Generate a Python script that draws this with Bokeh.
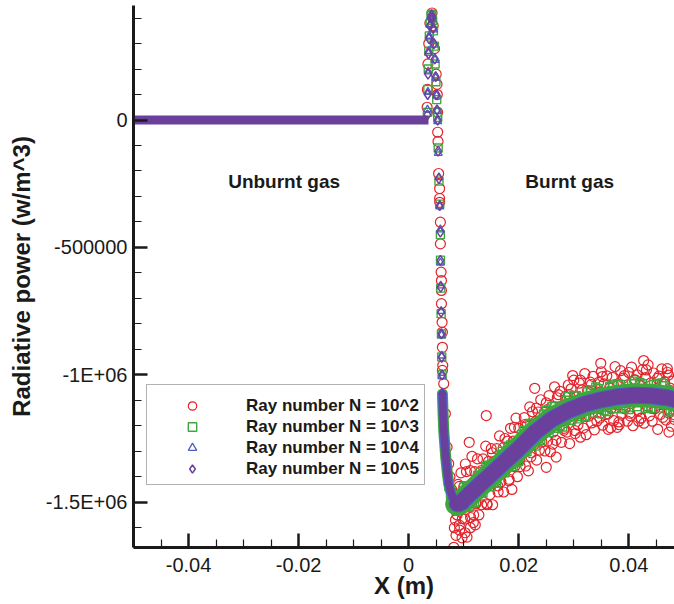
from bokeh.plotting import figure
from bokeh.models import FixedTicker, Legend, LegendItem, Label, Range1d
from bokeh.embed import file_html
from bokeh.resources import INLINE

# ---------------- data (y values in units of 1e6 W/m^3) ----------------
MW = 1e6

x_major = [-0.04, -0.02, 0.0, 0.02, 0.04]
x_minor = [-0.05, -0.045, -0.035, -0.03, -0.025, -0.015, -0.01, -0.005,
           0.005, 0.01, 0.015, 0.025, 0.03, 0.035, 0.045]
x_labels = {-0.04: "-0.04", -0.02: "-0.02", 0.0: "0", 0.02: "0.02", 0.04: "0.04"}
y_major = [-1500000, -1000000, -500000, 0]
y_minor = [-1600000, -1400000, -1300000, -1200000, -1100000, -900000, -800000,
           -700000, -600000, -400000, -300000, -200000, -100000,
           100000, 200000, 300000, 400000]
y_labels = {-1500000: "-1.5E+06", -1000000: "-1E+06", -500000: "-500000", 0: "0"}

series_names = ["Ray number N = 10^2", "Ray number N = 10^3",
                "Ray number N = 10^4", "Ray number N = 10^5"]

# unburnt gas: zero emission
zero_x = [-0.05, 0.0036]
zero_y = [0.0, 0.0]

# smooth band of the well-converged solution (burnt side)
band_x = [0.0088, 0.0095, 0.0100, 0.0110, 0.0120, 0.0130, 0.0140, 0.0150, 0.0170,
          0.0200, 0.0230, 0.0260, 0.0290, 0.0320, 0.0350, 0.0380, 0.0410, 0.0440,
          0.0470, 0.0483]
band_y = [-1.506, -1.505, -1.490, -1.470, -1.450, -1.430, -1.410, -1.390, -1.350,
          -1.290, -1.225, -1.175, -1.140, -1.115, -1.098, -1.086, -1.080, -1.082,
          -1.090, -1.097]

# lower part of the flame-front descent
drop_x = [0.00613, 0.00625, 0.00637, 0.00655, 0.00673, 0.00698, 0.00727,
          0.0076, 0.00789, 0.0084, 0.0088]
drop_y = [-1.075, -1.153, -1.219, -1.271, -1.323, -1.376, -1.428,
          -1.455, -1.474, -1.495, -1.506]

# N = 10^5 (purple diamonds): spike + descent
purple_x = [0.00340, 0.00345, 0.00352, 0.00360, 0.00370, 0.00385, 0.00400, 0.00415,
            0.00430, 0.00445, 0.00460, 0.00475, 0.00490, 0.00505, 0.00515,
            0.00527, 0.00536, 0.00549, 0.00564, 0.00576, 0.00576, 0.00582, 0.00589,
            0.00595, 0.0060, 0.00607, 0.00613, 0.00625, 0.00637, 0.00655, 0.00673,
            0.00698, 0.00727, 0.0076, 0.00789, 0.0084, 0.0088]
purple_y = [0.02, 0.10, 0.18, 0.26, 0.32, 0.37, 0.40, 0.41,
            0.40, 0.36, 0.30, 0.24, 0.17, 0.10, 0.04,
            0.0, -0.122, -0.230, -0.336, -0.44, -0.551, -0.656, -0.754,
            -0.839, -0.931, -1.0, -1.075, -1.153, -1.219, -1.271, -1.323,
            -1.376, -1.428, -1.455, -1.474, -1.495, -1.506]

# N = 10^4 (blue triangles)
blue_x = [0.00342, 0.0035, 0.00355, 0.00362, 0.00372, 0.00388, 0.00402, 0.00418,
          0.00432, 0.00448, 0.00462, 0.00478, 0.00492, 0.00507, 0.00517,
          0.00527, 0.00537, 0.0055, 0.00565, 0.00576, 0.00577, 0.00582, 0.0059,
          0.00595, 0.006, 0.00607, 0.00613, 0.00625, 0.00637, 0.00655, 0.00673,
          0.00698, 0.00727, 0.0076, 0.0079, 0.0084, 0.0088]
blue_y = [0.04, 0.11, 0.19, 0.27, 0.33, 0.375, 0.405, 0.415,
          0.395, 0.355, 0.295, 0.235, 0.165, 0.095, 0.035,
          -0.005, -0.13, -0.225, -0.34, -0.43, -0.56, -0.65, -0.75,
          -0.845, -0.925, -1.005, -1.07, -1.16, -1.215, -1.275, -1.32,
          -1.38, -1.425, -1.46, -1.48, -1.50, -1.515]

# N = 10^3 (green squares)
green_x = [0.0034, 0.00348, 0.00356, 0.00365, 0.00375, 0.0039, 0.00405, 0.0042,
           0.00435, 0.0045, 0.00465, 0.0048, 0.00495, 0.0051, 0.0052,
           0.00527, 0.00536, 0.0055, 0.00564, 0.00576, 0.00578, 0.00583, 0.0059,
           0.00596, 0.00601, 0.00608, 0.00614, 0.00626, 0.00638, 0.00656, 0.00675,
           0.007, 0.0073, 0.0076, 0.0079, 0.0084, 0.0088,
           0.010, 0.012, 0.014, 0.016, 0.018, 0.020, 0.022, 0.024, 0.026, 0.028,
           0.030, 0.032, 0.034, 0.036, 0.038, 0.040, 0.042, 0.044, 0.046, 0.048,
           0.011, 0.013, 0.015, 0.017, 0.019, 0.021, 0.023, 0.025, 0.027, 0.029,
           0.031, 0.033, 0.035, 0.037, 0.039, 0.041, 0.043, 0.045, 0.047,
           0.0105, 0.0115, 0.0125, 0.0135, 0.0145, 0.0155, 0.0165, 0.0175, 0.0185,
           0.0195, 0.0205, 0.0215, 0.0225, 0.0235, 0.0245, 0.0255, 0.0265, 0.0275,
           0.0285, 0.0295, 0.0305, 0.0315, 0.0325, 0.0335, 0.0345, 0.0355, 0.0365,
           0.0375, 0.0385, 0.0395, 0.0405, 0.0415, 0.0425, 0.0435, 0.0445, 0.0455,
           0.0465, 0.0475]
green_y = [0.03, 0.12, 0.20, 0.27, 0.33, 0.38, 0.41, 0.415,
           0.39, 0.35, 0.29, 0.22, 0.15, 0.08, 0.03,
           0.01, -0.11, -0.24, -0.33, -0.45, -0.55, -0.66, -0.76,
           -0.84, -0.93, -1.0, -1.08, -1.15, -1.22, -1.28, -1.33,
           -1.385, -1.44, -1.47, -1.49, -1.52, -1.53,
           -1.44, -1.50, -1.36, -1.425, -1.28, -1.34, -1.191, -1.258, -1.125, -1.205,
           -1.081, -1.165, -1.048, -1.144, -1.036, -1.136, -1.030, -1.132, -1.032, -1.145,
           -1.52, -1.38, -1.44, -1.30, -1.36, -1.218, -1.28, -1.14, -1.21, -1.085,
           -1.173, -1.059, -1.153, -1.04, -1.133, -1.025, -1.131, -1.034, -1.145,
           -1.435, -1.505, -1.395, -1.465, -1.355, -1.425, -1.315, -1.385, -1.275,
           -1.345, -1.234, -1.302, -1.190, -1.261, -1.154, -1.227, -1.122, -1.200,
           -1.100, -1.180, -1.082, -1.164, -1.067, -1.151, -1.055, -1.141, -1.047,
           -1.133, -1.039, -1.127, -1.035, -1.125, -1.035, -1.126, -1.038, -1.130,
           -1.043, -1.137]

# N = 10^2 (red circles): spike, descent and outliers
red_x0 = [0.00335, 0.00340, 0.00350, 0.00365, 0.00385, 0.00425, 0.00445, 0.00470,
          0.00500, 0.00515, 0.00520, 0.00527, 0.00527, 0.00533, 0.00544, 0.00562,
          0.00562, 0.00564, 0.00576, 0.00576, 0.00589, 0.00595, 0.00595, 0.00595,
          0.00607, 0.00613, 0.00613, 0.00619, 0.00613, 0.00637, 0.00667, 0.00698,
          0.00727, 0.0075, 0.0078, 0.0080, 0.0082, 0.0083, 0.0085, 0.0086, 0.0088,
          0.0092, 0.0097, 0.0103, 0.0106, 0.0110, 0.0112, 0.0118, 0.0121, 0.0141,
          0.0229, 0.0250, 0.0268, 0.0298, 0.0312, 0.0349, 0.0367, 0.0379, 0.0418,
          0.0427, 0.0470, 0.0473]
red_y0 = [0.05, 0.12, 0.22, 0.30, 0.38, 0.42, 0.37, 0.28,
          0.18, 0.14, 0.10, 0.03, -0.048, -0.084, -0.210, -0.269,
          -0.308, -0.323, -0.401, -0.486, -0.597, -0.630, -0.669, -0.721,
          -0.794, -0.833, -0.892, -0.963, -0.983, -1.035, -1.153, -1.284,
          -1.349, -1.40, -1.45, -1.52, -1.677, -1.60, -1.57, -1.63, -1.55,
          -1.59, -1.64, -1.35, -1.637, -1.265, -1.60, -1.55, -1.589, -1.160,
          -1.053, -1.363, -1.323, -1.003, -1.245, -0.955, -1.208, -1.206, -1.182,
          -0.944, -0.976, -1.225]
red_x1 = [0.0090, 0.0095, 0.0100, 0.0105, 0.0110, 0.0115, 0.0120, 0.0125, 0.0130, 0.0135,
          0.0140, 0.0145, 0.0150, 0.0155, 0.0160, 0.0165, 0.0170, 0.0175, 0.0180, 0.0185,
          0.0190, 0.0195, 0.0200, 0.0205, 0.0210, 0.0215, 0.0220, 0.0225, 0.0230, 0.0235,
          0.0240, 0.0245, 0.0250, 0.0255, 0.0260, 0.0265, 0.0270, 0.0275, 0.0280, 0.0285,
          0.0290, 0.0295, 0.0300, 0.0305, 0.0310, 0.0315, 0.0320, 0.0325, 0.0330, 0.0335,
          0.0340, 0.0345, 0.0350, 0.0355, 0.0360, 0.0365, 0.0370, 0.0375, 0.0380, 0.0385,
          0.0390, 0.0395, 0.0400, 0.0405, 0.0410, 0.0415, 0.0420, 0.0425, 0.0430, 0.0435,
          0.0440, 0.0445, 0.0450, 0.0455, 0.0460, 0.0465, 0.0470, 0.0475, 0.0480]
red_y1 = [-1.430, -1.385, -1.440, -1.380, -1.440, -1.320, -1.380, -1.330, -1.410, -1.330,
          -1.280, -1.340, -1.290, -1.340, -1.290, -1.240, -1.340, -1.250, -1.260, -1.210,
          -1.260, -1.170, -1.210, -1.249, -1.168, -1.197, -1.126, -1.145, -1.185, -1.146,
          -1.098, -1.179, -1.110, -1.082, -1.125, -1.047, -1.090, -1.065, -1.120, -1.085,
          -1.040, -1.055, -1.021, -1.087, -1.033, -1.059, -0.995, -1.062, -1.029, -1.006,
          -1.073, -1.030, -0.988, -1.036, -1.004, -1.052, -1.010, -0.968, -1.036, -0.984,
          -1.013, -1.062, -0.991, -0.970, -1.020, -1.000, -1.040, -0.980, -1.011, -0.961,
          -1.032, -0.993, -1.054, -1.005, -0.977, -1.028, -0.990, -1.052, -1.025]
red_x2 = [0.00925, 0.00975, 0.01025, 0.01075, 0.01125, 0.01175, 0.01225, 0.01275, 0.01325, 0.01375,
          0.01425, 0.01475, 0.01525, 0.01575, 0.01625, 0.01675, 0.01725, 0.01775, 0.01825, 0.01875,
          0.01925, 0.01975, 0.02025, 0.02075, 0.02125, 0.02175, 0.02225, 0.02275, 0.02325, 0.02375,
          0.02425, 0.02475, 0.02525, 0.02575, 0.02625, 0.02675, 0.02725, 0.02775, 0.02825, 0.02875,
          0.02925, 0.02975, 0.03025, 0.03075, 0.03125, 0.03175, 0.03225, 0.03275, 0.03325, 0.03375,
          0.03425, 0.03475, 0.03525, 0.03575, 0.03625, 0.03675, 0.03725, 0.03775, 0.03825, 0.03875,
          0.03925, 0.03975, 0.04025, 0.04075, 0.04125, 0.04175, 0.04225, 0.04275, 0.04325, 0.04375,
          0.04425, 0.04475, 0.04525, 0.04575, 0.04625, 0.04675, 0.04725, 0.04775, 0.04825]
red_y2 = [-1.610, -1.565, -1.620, -1.510, -1.560, -1.580, -1.500, -1.550, -1.510, -1.440,
          -1.510, -1.470, -1.510, -1.420, -1.460, -1.420, -1.460, -1.370, -1.410, -1.450,
          -1.360, -1.400, -1.360, -1.289, -1.358, -1.377, -1.306, -1.275, -1.335, -1.296,
          -1.238, -1.299, -1.260, -1.302, -1.225, -1.257, -1.180, -1.265, -1.210, -1.225,
          -1.270, -1.175, -1.231, -1.197, -1.153, -1.209, -1.235, -1.162, -1.189, -1.216,
          -1.123, -1.170, -1.198, -1.156, -1.214, -1.132, -1.180, -1.118, -1.196, -1.154,
          -1.133, -1.182, -1.161, -1.200, -1.100, -1.140, -1.170, -1.190, -1.121, -1.161,
          -1.182, -1.133, -1.214, -1.155, -1.117, -1.178, -1.150, -1.202, -1.175]
red_x3 = [0.0092, 0.0102, 0.0112, 0.0122, 0.0132, 0.0142, 0.0152, 0.0162, 0.0172, 0.0182,
          0.0192, 0.0202, 0.0212, 0.0222, 0.0232, 0.0242, 0.0252, 0.0262, 0.0272, 0.0282,
          0.0292, 0.0302, 0.0312, 0.0322, 0.0332, 0.0342, 0.0352, 0.0362, 0.0372, 0.0382,
          0.0392, 0.0402, 0.0412, 0.0422, 0.0432, 0.0442, 0.0452, 0.0462, 0.0472, 0.0482]
red_y3 = [-1.438, -1.566, -1.376, -1.506, -1.376, -1.506, -1.306, -1.436, -1.286, -1.416,
          -1.206, -1.335, -1.194, -1.322, -1.131, -1.264, -1.137, -1.272, -1.078, -1.218,
          -1.078, -1.219, -1.021, -1.164, -1.038, -1.182, -1.007, -1.153, -1.039, -1.185,
          -1.003, -1.151, -1.020, -1.170, -0.981, -1.132, -1.014, -1.167, -1.001, -1.156]

# ---------------- styling ----------------
RED = "#e3232b"
GREEN = "#3fa83c"
BLUE = "#4e5fc4"
PURPLE = "#6a409c"
FONT = "Liberation Sans"


def mw(vals):
    return [v * MW for v in vals]


p = figure(width=674, height=604,
           x_range=Range1d(-0.05, 0.0483), y_range=Range1d(-1.6778e6, 0.4494e6),
           output_backend="svg", toolbar_location=None,
           min_border_left=133, min_border_right=0, min_border_top=5, min_border_bottom=57)
p.outline_line_color = None
p.xgrid.visible = False
p.ygrid.visible = False
p.background_fill_color = "white"

# red circles
red_x = red_x0 + red_x1 + red_x2 + red_x3
red_y = red_y0 + red_y1 + red_y2 + red_y3
r_red = p.scatter(red_x, mw(red_y), marker="circle", size=10, fill_color=None,
                  line_color=RED, line_width=1.2)

# green
p.line(band_x, mw(band_y), line_color=GREEN, line_width=24, line_cap="round")
p.line(drop_x, mw(drop_y), line_color=GREEN, line_width=11, line_cap="round")
r_green = p.scatter(green_x, mw(green_y), marker="square", size=8, fill_color=None,
                    line_color=GREEN, line_width=1.4)

# blue
p.line(band_x, mw(band_y), line_color=BLUE, line_width=17, line_cap="round")
p.line(drop_x, mw(drop_y), line_color=BLUE, line_width=9, line_cap="round")
r_blue = p.scatter(blue_x, mw(blue_y), marker="triangle", size=8, fill_color=None,
                   line_color=BLUE, line_width=1.3)

# purple
p.line(band_x, mw(band_y), line_color=PURPLE, line_width=15, line_cap="round")
p.line(drop_x, mw(drop_y), line_color=PURPLE, line_width=7, line_cap="round")
p.line(zero_x, mw(zero_y), line_color=PURPLE, line_width=9)
r_purple = p.scatter(purple_x, mw(purple_y), marker="diamond", size=10,
                     fill_color=None, line_color=PURPLE, line_width=1.5)

# axes
xa = p.xaxis[0]
ya = p.yaxis[0]
xa.ticker = FixedTicker(ticks=x_major, minor_ticks=x_minor)
ya.ticker = FixedTicker(ticks=y_major, minor_ticks=y_minor)
xa.major_label_overrides = x_labels
ya.major_label_overrides = y_labels
xa.axis_label = "X (m)"
ya.axis_label = "Radiative power (w/m^3)"
for ax in (xa, ya):
    ax.axis_line_width = 3
    ax.axis_line_color = "#1a1a1a"
    ax.major_tick_in = 14
    ax.major_tick_out = 0
    ax.minor_tick_in = 8
    ax.minor_tick_out = 0
    ax.major_tick_line_width = 2.5
    ax.minor_tick_line_width = 1.2
    ax.major_tick_line_color = "#1a1a1a"
    ax.minor_tick_line_color = "#1a1a1a"
    ax.major_label_text_font = FONT
    ax.major_label_text_font_size = "20px"
    ax.major_label_text_color = "#1a1a1a"
    ax.axis_label_text_font = FONT
    ax.axis_label_text_font_style = "bold"
    ax.axis_label_text_font_size = "24px"
    ax.axis_label_text_color = "#1a1a1a"
xa.major_label_standoff = 10
xa.axis_label_standoff = -3
ya.major_label_standoff = 6
ya.axis_label_standoff = 8

# region labels
for txt, xpos in (("Unburnt gas", -0.0328), ("Burnt gas", 0.0212)):
    p.add_layout(Label(x=xpos, y=-0.2414e6, text=txt, text_font=FONT,
                       text_font_style="bold", text_font_size="19px",
                       text_color="#1a1a1a", text_baseline="middle", text_align="left"))

legend = Legend(items=[LegendItem(label=series_names[0], renderers=[r_red]),
                       LegendItem(label=series_names[1], renderers=[r_green]),
                       LegendItem(label=series_names[2], renderers=[r_blue]),
                       LegendItem(label=series_names[3], renderers=[r_purple])],
                location=(13, 62))
legend.title = " "
legend.title_text_font_size = "2px"
legend.title_standoff = 3
legend.margin = 0
legend.padding = 5
legend.spacing = 0
legend.glyph_width = 80
legend.glyph_height = 21
legend.label_height = 21
legend.label_standoff = 14
legend.label_text_font = FONT
legend.label_text_font_style = "bold"
legend.label_text_font_size = "17px"
legend.label_text_color = "#1a1a1a"
legend.border_line_color = "#666666"
legend.border_line_width = 1.2
legend.background_fill_color = "white"
legend.background_fill_alpha = 1.0
p.add_layout(legend)

open("out.html", "w").write(file_html(p, INLINE))
